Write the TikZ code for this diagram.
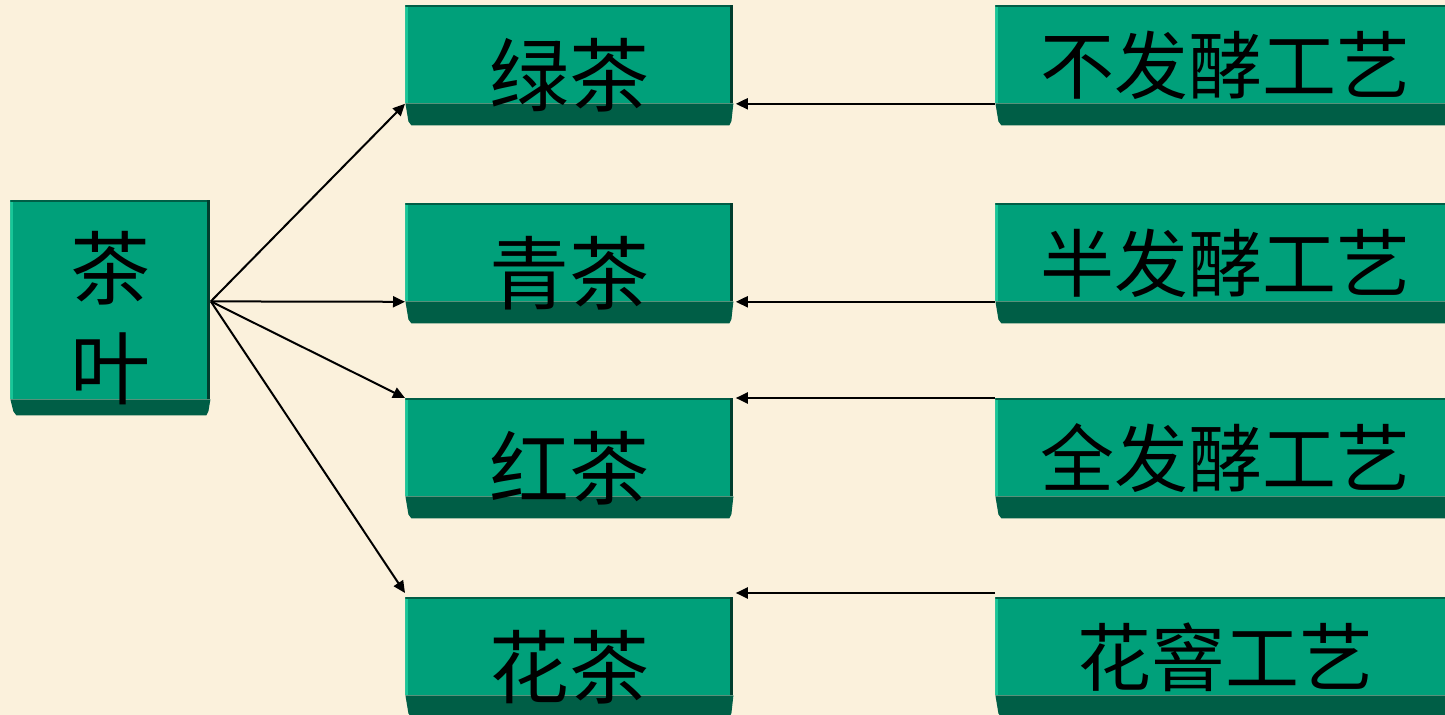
\documentclass[tikz,border=0pt]{standalone}
\usepackage{fontspec}
\newfontfamily\cjk{Noto Sans CJK SC}
\usetikzlibrary{arrows.meta}
\definecolor{bg}{RGB}{251,241,220}
\definecolor{face}{RGB}{0,160,122}
\definecolor{bevel}{RGB}{0,94,70}
\definecolor{hilite}{RGB}{24,198,152}
\definecolor{edge}{RGB}{0,62,46}
\newcommand{\lowered}[2]{\raisebox{#1}[\height][\depth]{#2}}
\tikzset{
  teabox/.style={rectangle, inner sep=0pt, anchor=north west, text=black,
    path picture={
      \fill[face] (path picture bounding box.north west) rectangle ([yshift=#1]path picture bounding box.south east);
      \fill[bevel] ([yshift=#1]path picture bounding box.south west)
        -- ([yshift=#1]path picture bounding box.south east)
        -- ([xshift=-1pt,yshift=2pt]path picture bounding box.south east)
        -- ([xshift=-2pt]path picture bounding box.south east)
        -- ([xshift=3pt]path picture bounding box.south west)
        -- ([xshift=1.5pt,yshift=2pt]path picture bounding box.south west) -- cycle;
      \fill[hilite] (path picture bounding box.north west) rectangle ([xshift=1.2pt,yshift=#1]path picture bounding box.south west);
      \fill[bevel] (path picture bounding box.north west) rectangle ([yshift=-0.8pt]path picture bounding box.north east);
      \fill[edge] ([xshift=-1.5pt]path picture bounding box.north east) rectangle ([yshift=#1]path picture bounding box.south east);
    }},
  teabox/.default=11pt,
  midbox/.style={teabox, minimum width=164pt, minimum height=60pt, font=\cjk\fontsize{40pt}{48pt}\selectfont},
  rightbox/.style={teabox, minimum width=230pt, minimum height=60pt, font=\cjk\fontsize{37pt}{44pt}\selectfont},
  arr/.style={line width=1pt, -{Triangle[length=6pt,width=5.5pt]}},
}
\begin{document}
\begin{tikzpicture}[x=0.5pt,y=-0.5pt]
\useasboundingbox (0,0) rectangle (1445,715);
\clip (0,0) rectangle (1445,715);
\fill[bg] (0,0) rectangle (1445,715);

\node[teabox=8pt, minimum width=100pt, minimum height=107.5pt, align=center,
  font=\cjk\fontsize{40pt}{50pt}\selectfont] (tea) at (10,200) {\lowered{-5pt}{茶}\\\lowered{-5pt}{叶}};

\node[midbox] (g) at (405,5)   {\lowered{-5pt}{绿茶}};
\node[midbox] (q) at (405,203) {\lowered{-5pt}{青茶}};
\node[midbox] (h) at (405,398) {\lowered{-5pt}{红茶}};
\node[midbox] (f) at (405,597) {\lowered{-5pt}{花茶}};

\node[rightbox] (p1) at (995,5)   {不发酵工艺};
\node[rightbox] (p2) at (995,203) {半发酵工艺};
\node[rightbox] (p3) at (995,398) {全发酵工艺};
\node[rightbox] (p4) at (995,597) {花窨工艺};

\coordinate (src) at ([yshift=3.25pt]tea.east);
\draw[arr] (src) -- ([yshift=11pt]g.south west);
\draw[arr] (src) -- ([yshift=11pt]q.south west);
\draw[arr] (src) -- (h.north west);
\draw[arr] (src) -- ([yshift=2pt]f.north west);

\draw[arr] ([yshift=11pt]p1.south west) -- ([xshift=1pt,yshift=11pt]g.south east);
\draw[arr] ([yshift=11pt]p2.south west) -- ([xshift=1pt,yshift=11pt]q.south east);
\draw[arr] (p3.north west) -- ([xshift=1pt]h.north east);
\draw[arr] ([yshift=2pt]p4.north west) -- ([xshift=1pt,yshift=2pt]f.north east);
\end{tikzpicture}
\end{document}
